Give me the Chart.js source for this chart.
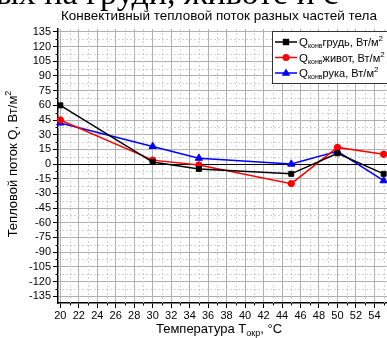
<!DOCTYPE html>
<html>
<head>
<meta charset="utf-8">
<script src="https://cdn.jsdelivr.net/npm/chart.js@4/dist/chart.umd.min.js"></script>
<style>
  html, body { margin: 0; padding: 0; background: #fff; overflow: hidden; }
  #wrap { width: 387px; height: 338px; overflow: hidden; position: relative; }
  canvas { display: block; }
</style>
</head>
<body>
<div id="wrap"><canvas id="c" width="400" height="338"></canvas></div>
<script>
// Ambient temperature, °C
const temps = [20, 30, 35, 45, 50, 55];
// Convective heat flux, W/m²
const chest = [60, 2, -5, -10, 11, -10];
const belly = [45, 4, -1, -20, 17, 10];
const arm   = [42, 18, 6, 0, 13, -17];

const xTicks = [20, 22, 24, 26, 28, 30, 32, 34, 36, 38, 40, 42, 44, 46, 48, 50, 52, 54, 56];
const yTicks = [-135, -120, -105, -90, -75, -60, -45, -30, -15, 0, 15, 30, 45, 60, 75, 90, 105, 120, 135];

const seriesNames = ['грудь, Вт/м', 'живот, Вт/м', 'рука, Вт/м'];
const colors = ['#000000', '#ff0000', '#0000ff'];
const markers = ['rect', 'circle', 'triangle'];
const markerSizes = [3.2, 3.5, 4.5];

const titleText = 'Конвективный тепловой поток разных частей тела';
const topLine = 'ых на груди, животе и с';

const SANS = '"Liberation Sans", Arial, sans-serif';

function pts(ys) { return temps.map((t, i) => ({ x: t, y: ys[i] })); }

function drawMarker(ctx, type, x, y, r, color) {
  ctx.save();
  ctx.fillStyle = color;
  ctx.beginPath();
  if (type === 'rect') {
    ctx.rect(x - r, y - r, 2 * r, 2 * r);
  } else if (type === 'circle') {
    ctx.arc(x, y, r, 0, Math.PI * 2);
  } else {
    ctx.moveTo(x, y - r);
    ctx.lineTo(x + r * 0.95, y + r * 0.6);
    ctx.lineTo(x - r * 0.95, y + r * 0.6);
    ctx.closePath();
  }
  ctx.fill();
  ctx.restore();
}

const decor = {
  id: 'decor',
  beforeDatasetsDraw(chart) {
    const { ctx, chartArea: a, scales: { x, y } } = chart;
    ctx.save();
    // dotted minor grid
    ctx.strokeStyle = '#d2d2d2';
    ctx.lineWidth = 1;
    ctx.setLineDash([2, 2]);
    for (let v = 21; v <= 55; v += 2) {
      const px = Math.round(x.getPixelForValue(v)) + 0.5;
      ctx.beginPath(); ctx.moveTo(px, a.top); ctx.lineTo(px, a.bottom); ctx.stroke();
    }
    for (let v = -142.5; v <= 137.5; v += 15) {
      const py = Math.round(y.getPixelForValue(v)) + 0.5;
      if (py <= a.top || py >= a.bottom) continue;
      ctx.beginPath(); ctx.moveTo(a.left, py); ctx.lineTo(a.right, py); ctx.stroke();
    }
    ctx.setLineDash([]);
    // minor ticks
    ctx.strokeStyle = '#000';
    for (let v = 21; v <= 55; v += 2) {
      const px = Math.round(x.getPixelForValue(v)) + 0.5;
      ctx.beginPath(); ctx.moveTo(px, a.bottom); ctx.lineTo(px, a.bottom + 2.5); ctx.stroke();
    }
    for (let v = -142.5; v <= 137.5; v += 15) {
      const py = Math.round(y.getPixelForValue(v)) + 0.5;
      if (py <= a.top || py >= a.bottom) continue;
      ctx.beginPath(); ctx.moveTo(a.left, py); ctx.lineTo(a.left - 2.5, py); ctx.stroke();
    }
    // zero reference line
    const y0 = Math.round(y.getPixelForValue(0)) + 0.5;
    ctx.lineWidth = 1.2;
    ctx.beginPath(); ctx.moveTo(a.left, y0); ctx.lineTo(a.right, y0); ctx.stroke();
    ctx.restore();
  },
  afterDraw(chart) {
    const { ctx } = chart;
    ctx.save();
    ctx.fillStyle = '#000';
    ctx.textBaseline = 'alphabetic';

    // heading line running above the figure
    ctx.font = '34px "Liberation Serif", "Times New Roman", serif';
    ctx.textAlign = 'left';
    ctx.fillText(topLine, -4, 4);

    // chart title
    ctx.font = '13.5px ' + SANS;
    ctx.textAlign = 'center';
    ctx.fillText(titleText, 219, 20);

    // y-axis title
    ctx.save();
    ctx.translate(17, 164);
    ctx.rotate(-Math.PI / 2);
    ctx.font = '13px ' + SANS;
    const yt = 'Тепловой поток Q, Вт/м';
    const ytw = ctx.measureText(yt).width;
    ctx.font = '9px ' + SANS;
    const ysw = ctx.measureText('2').width;
    const sx = -(ytw + ysw) / 2;
    ctx.textAlign = 'left';
    ctx.font = '13px ' + SANS;
    ctx.fillText(yt, sx, 0);
    ctx.font = '9px ' + SANS;
    ctx.fillText('2', sx + ytw, -6);
    ctx.restore();

    // x-axis title with subscript
    ctx.textAlign = 'left';
    const parts = [['Температура T', '13px', 0], ['окр', '9px', 3], [', °C', '13px', 0]];
    let total = 0;
    parts.forEach(p => { ctx.font = p[1] + ' ' + SANS; total += ctx.measureText(p[0]).width; });
    let xx = 219 - total / 2;
    parts.forEach(p => {
      ctx.font = p[1] + ' ' + SANS;
      ctx.fillText(p[0], xx, 333 + p[2]);
      xx += ctx.measureText(p[0]).width;
    });

    // legend
    ctx.fillStyle = '#fff';
    ctx.fillRect(272.5, 31.5, 130, 52);
    ctx.strokeStyle = '#333';
    ctx.lineWidth = 1;
    ctx.strokeRect(272.5, 31.5, 130, 52);
    const rows = [42, 57.5, 73];
    rows.forEach((ry, i) => {
      ctx.strokeStyle = colors[i];
      ctx.lineWidth = 1.5;
      ctx.beginPath(); ctx.moveTo(275, ry); ctx.lineTo(297, ry); ctx.stroke();
      drawMarker(ctx, markers[i], 286, ry, markerSizes[i], colors[i]);
      ctx.fillStyle = '#000';
      let lx = 299;
      const by = ry + 4;
      ctx.font = '11.5px ' + SANS;
      ctx.fillText('Q', lx, by); lx += ctx.measureText('Q').width;
      ctx.font = '7px ' + SANS;
      ctx.fillText('конв', lx, by + 2); lx += ctx.measureText('конв').width;
      ctx.font = '11px ' + SANS;
      ctx.fillText(seriesNames[i], lx, by); lx += ctx.measureText(seriesNames[i]).width;
      ctx.font = '8px ' + SANS;
      ctx.fillText('2', lx, by - 5);
    });
    ctx.restore();
  }
};

function ds(label, data, color, style, radius) {
  return {
    label,
    data: pts(data),
    borderColor: color,
    backgroundColor: color,
    borderWidth: 1.5,
    pointStyle: style,
    pointRadius: radius,
    pointHoverRadius: radius,
    pointBorderWidth: 1,
    tension: 0,
    clip: false
  };
}

new Chart(document.getElementById('c'), {
  type: 'line',
  data: {
    datasets: [
      ds('грудь', chest, colors[0], 'rect', 3.5),
      ds('живот', belly, colors[1], 'circle', 3.2),
      ds('рука', arm, colors[2], 'triangle', 4.2)
    ]
  },
  options: {
    responsive: false,
    animation: false,
    events: [],
    layout: { padding: { top: 29, right: 3, left: 0, bottom: 0 } },
    plugins: { legend: { display: false }, title: { display: false }, tooltip: { enabled: false } },
    scales: {
      x: {
        type: 'linear',
        min: 19.75,
        max: 56,
        afterBuildTicks(s) { s.ticks = xTicks.map(v => ({ value: v })); },
        afterFit(s) { s.height = 35; },
        grid: { color: '#b0b0b0', lineWidth: 1, drawTicks: true, tickLength: 5, tickColor: '#000', tickWidth: 1 },
        border: { color: '#000', width: 1.5 },
        ticks: { color: '#000', font: { family: SANS, size: 11 }, padding: 1, maxRotation: 0, autoSkip: false }
      },
      y: {
        type: 'linear',
        min: -142,
        max: 138,
        afterBuildTicks(s) { s.ticks = yTicks.map(v => ({ value: v })); },
        afterFit(s) { s.width = 58; },
        grid: { color: '#b0b0b0', lineWidth: 1, drawTicks: true, tickLength: 5, tickColor: '#000', tickWidth: 1 },
        border: { color: '#000', width: 1.5 },
        ticks: { color: '#000', font: { family: SANS, size: 11 }, padding: 2, autoSkip: false }
      }
    }
  },
  plugins: [decor]
});
</script>
</body>
</html>
